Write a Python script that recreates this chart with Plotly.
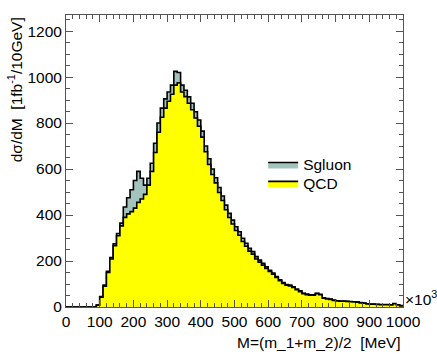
import plotly.graph_objects as go

# bin lower edges (10 GeV bins, 0..1000)
bin_edges = list(range(0, 1010, 10))

total = [0, 0, 0, 0, 0, 0, 0, 0, 0, 8,
         45, 95, 155, 215, 275, 320, 365, 435, 475, 510,
         550, 590, 560, 530, 560, 625, 712, 800, 865, 905,
         935, 965, 1025, 1020, 965, 943, 914, 886, 849, 813,
         765, 700, 645, 600, 562, 520, 483, 443, 407, 378,
         349, 327, 299, 277, 255, 241, 219, 204, 190, 175,
         160, 148, 132, 118, 106, 98, 95, 88, 78, 70,
         60, 56, 53, 53, 60, 55, 40, 37, 35, 30,
         27, 26, 26, 25, 24, 23, 22, 19, 17, 14,
         13, 13, 12, 11, 11, 11, 10, 15, 10, 6]

sgluon = [0, 0, 0, 0, 0, 0, 0, 0, 0, 0,
          2, 4, 5, 6, 8, 10, 12, 45, 70, 95,
          120, 135, 90, 40, 30, 35, 40, 40, 40, 40,
          40, 40, 60, 45, 30, 28, 28, 28, 27, 27,
          26, 25, 25, 24, 22, 22, 20, 20, 18, 17,
          16, 15, 14, 13, 12, 11, 10, 9, 8, 7,
          5, 5, 4, 4, 4, 3, 3, 3, 3, 3,
          2, 2, 2, 2, 2, 2, 2, 2, 2, 2,
          1, 1, 1, 1, 1, 1, 1, 1, 1, 1,
          1, 1, 1, 1, 1, 1, 1, 1, 1, 1]

qcd = [t - s for t, s in zip(total, sgluon)]

FONT = "Liberation Sans, Arial, sans-serif"
FS = 15.5

def step(vals):
    return bin_edges, list(vals) + [vals[-1]]

fig = go.Figure()
xs, ys = step(total)
fig.add_trace(go.Scatter(x=xs, y=ys, mode="lines", line_shape="hv",
                         line=dict(color="black", width=1.6),
                         fill="tozeroy", fillcolor="#a3c4bc", name="Sgluon",
                         legend="legend"))
xs, ys = step(qcd)
fig.add_trace(go.Scatter(x=xs, y=ys, mode="lines", line_shape="hv",
                         line=dict(color="black", width=1.6),
                         fill="tozeroy", fillcolor="#ffff00", name="QCD",
                         legend="legend2"))

axis_common = dict(showgrid=False, zeroline=False, showline=True,
                   linecolor="#555555", linewidth=1, mirror="ticks",
                   ticks="inside", tickcolor="#555555", ticklen=7,
                   tickfont=dict(family=FONT, size=FS, color="black"))

fig.update_xaxes(range=[0, 1000], tick0=0, dtick=100,
                 minor=dict(ticks="inside", dtick=20, ticklen=4, tickcolor="#555555"),
                 **axis_common)
fig.update_yaxes(range=[0, 1270], tick0=0, dtick=200,
                 minor=dict(ticks="inside", dtick=50, ticklen=4, tickcolor="#555555"),
                 **axis_common)

leg_common = dict(xanchor="left", yanchor="top", bgcolor="rgba(0,0,0,0)",
                  font=dict(family=FONT, size=FS), itemwidth=30)

fig.update_layout(
    width=437, height=357,
    margin=dict(l=66, r=34, t=15, b=50),
    plot_bgcolor="white", paper_bgcolor="white",
    font=dict(family=FONT, size=FS, color="black"),
    showlegend=True,
    legend=dict(x=0.585, y=0.545, **leg_common),
    legend2=dict(x=0.585, y=0.48, **leg_common),
    annotations=[
        dict(text="M=(m_1+m_2)/2  [MeV]", xref="paper", yref="paper",
             x=1.0, y=-0.12, xanchor="right", yanchor="middle",
             showarrow=False, font=dict(family=FONT, size=FS)),
        dict(text="dσ/dM  [1fb<sup>-1</sup>/10GeV]", xref="paper", yref="paper",
             x=-0.152, y=1.0, xanchor="center", yanchor="top", textangle=-90,
             showarrow=False, font=dict(family=FONT, size=FS)),
        dict(text="×10<sup>3</sup>", xref="paper", yref="paper",
             x=1.0, y=0.03, xanchor="left", yanchor="middle",
             showarrow=False, font=dict(family=FONT, size=FS)),
    ],
)

fig.write_html("out.html")
